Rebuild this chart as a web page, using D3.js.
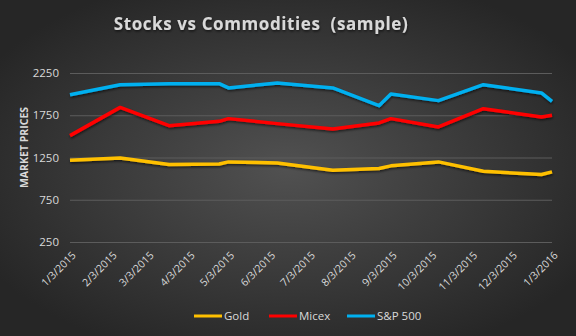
<!DOCTYPE html>
<html>
<head>
<meta charset="utf-8">
<script src="https://cdn.jsdelivr.net/npm/d3@7"></script>
<style>
  html, body { margin: 0; padding: 0; background: #333; }
  svg { display: block; font-family: "Open Sans", "Noto Sans", sans-serif; }
</style>
</head>
<body>
<svg id="chart"></svg>
<script>
const dates = ["2015-01-03", "2015-02-10", "2015-03-19", "2015-04-26", "2015-05-03", "2015-06-09",
               "2015-07-21", "2015-08-25", "2015-09-03", "2015-10-09", "2015-11-12", "2015-12-26", "2016-01-03"];
const gold  = [1217, 1245, 1166, 1174, 1198, 1186, 1099, 1119, 1151, 1198, 1087, 1048, 1080];
const micex = [1509, 1843, 1627, 1678, 1710, 1651, 1588, 1659, 1710, 1612, 1828, 1730, 1749];
const sp500 = [1993, 2112, 2124, 2124, 2073, 2132, 2073, 1863, 2002, 1923, 2112, 2014, 1914];
const yTicks = [250, 750, 1250, 1750, 2250];
const xTicks = ["2015-01-03", "2015-02-03", "2015-03-03", "2015-04-03", "2015-05-03", "2015-06-03", "2015-07-03",
                "2015-08-03", "2015-09-03", "2015-10-03", "2015-11-03", "2015-12-03", "2016-01-03"];

const width = 576;
const height = 336;
const margin = {left: 70, right: 24, top: 73, bottom: 94};

const parse = d3.timeParse("%Y-%m-%d");
const fmt = d => `${d.getMonth() + 1}/${d.getDate()}/${d.getFullYear()}`;

const series = [
  {name: "Gold", values: gold, color: "#FFC000"},
  {name: "Micex", values: micex, color: "#FF0000"},
  {name: "S&P 500", values: sp500, color: "#00B0F0"}
];

const svg = d3.select("#chart").attr("width", width).attr("height", height);
const defs = svg.append("defs");

const grad = defs.append("radialGradient")
  .attr("id", "bg")
  .attr("cx", "50%").attr("cy", "50%").attr("r", "60%");
grad.append("stop").attr("offset", "0%").attr("stop-color", "#515151");
grad.append("stop").attr("offset", "100%").attr("stop-color", "#262626");

const shadow = defs.append("filter").attr("id", "shadow")
  .attr("x", "-10%").attr("y", "-50%").attr("width", "120%").attr("height", "200%");
shadow.append("feDropShadow")
  .attr("dx", 0.5).attr("dy", 1.5).attr("stdDeviation", 1)
  .attr("flood-color", "#000").attr("flood-opacity", 0.6);

svg.append("rect").attr("width", width).attr("height", height).attr("fill", "url(#bg)");

const x = d3.scaleTime()
  .domain([parse(xTicks[0]), parse(xTicks[xTicks.length - 1])])
  .range([margin.left, width - margin.right]);

const y = d3.scaleLinear()
  .domain([250, 2250])
  .range([height - margin.bottom, margin.top]);

// title
svg.append("text")
  .attr("x", 261).attr("y", 30)
  .attr("text-anchor", "middle")
  .attr("fill", "#d9d9d9")
  .attr("font-size", 17)
  .attr("font-weight", "bold")
  .attr("letter-spacing", 0.6)
  .style("white-space", "pre")
  .attr("filter", "url(#shadow)")
  .text("Stocks vs Commodities  (sample)");

// gridlines
svg.append("g")
  .attr("transform", `translate(${margin.left}, 0)`)
  .call(d3.axisLeft(y).tickValues(yTicks).tickSize(-(width - margin.left - margin.right)).tickFormat(""))
  .call(g => g.select(".domain").remove())
  .call(g => g.selectAll("line").attr("stroke", "#5c5c5c").attr("stroke-width", 1));

// y labels
svg.append("g")
  .attr("transform", `translate(${margin.left}, 0)`)
  .call(d3.axisLeft(y).tickValues(yTicks).tickSize(0).tickPadding(11).tickFormat(d3.format("d")))
  .call(g => g.select(".domain").remove())
  .call(g => g.selectAll("text")
    .attr("fill", "#d9d9d9")
    .attr("font-size", 11.5)
    .attr("font-family", "Open Sans, sans-serif"));

// y title
svg.append("text")
  .attr("transform", `translate(28, ${(margin.top + height - margin.bottom) / 2 - 10}) rotate(-90)`)
  .attr("text-anchor", "middle")
  .attr("fill", "#d9d9d9")
  .attr("font-size", 10.5)
  .attr("font-weight", "bold")
  .text("MARKET PRICES");

// x labels
svg.append("g")
  .attr("transform", `translate(0, ${height - margin.bottom})`)
  .call(d3.axisBottom(x).tickValues(xTicks.map(parse)).tickSize(0).tickFormat(fmt))
  .call(g => g.select(".domain").remove())
  .call(g => g.selectAll("text")
    .attr("fill", "#d9d9d9")
    .attr("font-size", 10.5)
    .attr("font-family", "Open Sans, sans-serif")
    .attr("text-anchor", "end")
    .attr("dy", 0)
    .attr("transform", "translate(4, 12) rotate(-45)"));

// lines
const line = d3.line()
  .x((d, i) => x(parse(dates[i])))
  .y(d => y(d));

svg.append("g").selectAll("path")
  .data(series)
  .join("path")
  .attr("d", d => line(d.values))
  .attr("fill", "none")
  .attr("stroke", d => d.color)
  .attr("stroke-width", 3.5)
  .attr("stroke-linejoin", "round")
  .attr("filter", "url(#shadow)");

// legend
const legendX = [194, 269, 347];
const legend = svg.append("g").selectAll("g")
  .data(series)
  .join("g")
  .attr("transform", (d, i) => `translate(${legendX[i]}, 316)`);

legend.append("line")
  .attr("x1", 0).attr("x2", 28)
  .attr("stroke", d => d.color)
  .attr("stroke-width", 3);

legend.append("text")
  .attr("x", 30).attr("y", 4)
  .attr("fill", "#d9d9d9")
  .attr("font-size", 11.5)
  .text(d => d.name);
</script>
</body>
</html>
